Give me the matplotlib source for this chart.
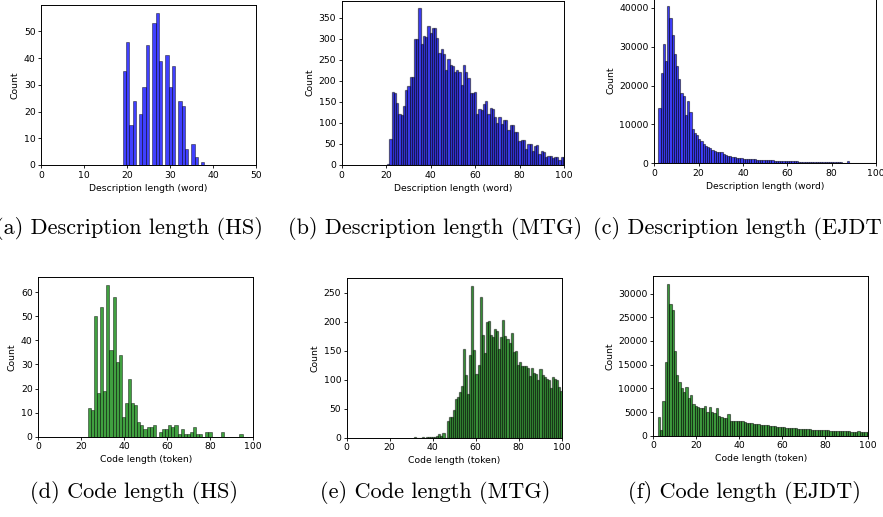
import matplotlib.pyplot as plt
import matplotlib.colors as mcolors
import numpy as np

# Length histograms: first bin edge, bin width and counts per bin
hs_desc_start, hs_desc_width = 19.0, 0.76
hs_desc_counts = [35, 46, 15, 24, 0, 19, 29, 45, 0, 53, 57, 39, 0, 41, 29, 37,
                  0, 24, 22, 6, 0, 8, 3, 0, 1]

mtg_desc_start, mtg_desc_width = 20.5, 1.0
mtg_desc_counts = [3, 62, 173, 172, 148, 120, 119, 141, 177, 188,
                   210, 210, 300, 298, 372, 288, 307, 305, 331, 314,
                   326, 325, 302, 267, 275, 263, 225, 252, 237, 236,
                   220, 225, 222, 190, 237, 220, 206, 170, 172, 173,
                   120, 133, 131, 146, 152, 120, 135, 134, 113, 99,
                   113, 98, 108, 108, 82, 95, 95, 78, 78, 58,
                   59, 60, 38, 51, 50, 33, 46, 47, 27, 33,
                   32, 20, 21, 22, 17, 18, 18, 13, 19, 19]

ejdt_desc_start, ejdt_desc_width = 1.8, 1.0
ejdt_desc_counts = [14200, 23200, 30700, 26200, 40500, 37400, 33000, 28000, 25100, 21700,
                    18100, 17200, 12400, 15900, 13100, 8700, 7800, 7300, 6200, 5700,
                    5000, 4400, 4200, 4000, 3500, 3200, 3000, 2900, 2800, 2500,
                    2100, 1900, 1800, 1600, 1500, 1400, 1300, 1300, 1200, 1150,
                    1100, 1050, 1000, 980, 950, 900, 880, 850, 820, 800,
                    900, 780, 700, 680, 650, 620, 600, 580, 560, 520,
                    500, 480, 470, 450, 420, 400, 390, 370, 350, 330,
                    320, 310, 300, 290, 280, 270, 260, 250, 240, 230,
                    220, 215, 210, 205, 200, 600, 195, 190, 185, 180,
                    175, 170, 165, 160, 155, 150, 145, 140, 135]

hs_code_start, hs_code_width = 23.0, 1.44
hs_code_counts = [12, 11, 50, 18, 54, 19, 63, 36, 58, 31,
                  34, 8, 14, 24, 14, 13, 6, 5, 3, 4,
                  4, 5, 0, 2, 3, 3, 5, 4, 5, 1,
                  3, 1, 1, 2, 4, 1, 1, 0, 2, 2,
                  0, 0, 0, 2, 0, 0, 0, 0, 0, 1]

mtg_code_start, mtg_code_width = 31.1, 0.96
mtg_code_counts = [1, 0, 0, 0, 1, 0, 1, 1, 2, 1, 1, 3, 7, 3, 8, 0,
                   29, 36, 36, 47, 66, 71, 79, 89, 153, 108,
                   75, 142, 262, 151, 110, 125, 243, 177, 146, 199,
                   201, 177, 173, 187, 185, 153, 174, 203, 176, 171,
                   163, 180, 148, 149, 125, 131, 124, 123, 123, 120,
                   107, 120, 111, 110, 99, 119, 108, 105, 102, 100,
                   86, 104, 102, 100, 88, 81]

ejdt_code_start, ejdt_code_width = 2.0, 1.08
ejdt_code_counts = [4000, 1300, 7400, 15600, 32100, 27800, 26600, 17900, 12900, 11300,
                    10000, 9300, 10300, 8000, 8600, 6600, 6200, 6000, 5800, 5900,
                    6200, 5100, 6100, 4900, 4800, 5800, 4200, 3900, 3800, 3700,
                    4600, 3200, 3100, 3100, 3000, 3000, 3100, 2900, 2700, 2600,
                    2600, 2500, 2500, 2400, 2300, 2300, 2200, 2200, 2100, 2000,
                    2000, 1900, 1900, 1800, 1800, 1700, 1700, 1650, 1600, 1550,
                    1500, 1500, 1450, 1400, 1400, 1350, 1300, 1300, 1250, 1200,
                    1200, 1150, 1100, 1100, 1050, 1050, 1000, 1000, 950, 950,
                    900, 900, 900, 850, 850, 800, 900, 800, 750, 750, 700]

desc_captions = ['(a) Description length (HS)', '(b) Description length (MTG)',
                 '(c) Description length (EJDT)']
code_captions = ['(d) Code length (HS)', '(e) Code length (MTG)', '(f) Code length (EJDT)']

W, H = 883, 517
fig = plt.figure(figsize=(W / 100, H / 100), dpi=100)

BLUE = mcolors.to_rgba('blue', 0.75)
GREEN = mcolors.to_rgba('green', 0.75)
EDGE = (0, 0, 0, 0.5)
FS = 6.7
CAP_FS = 16


def box(l, t, r, b):
    # axes rectangle given in pixels from the top-left corner
    return fig.add_axes([l / W, 1 - b / H, (r - l) / W, (b - t) / H])


def hist(ax, start, width, counts, color, xmax, xstep, xlabel, lw=0.6):
    counts = np.asarray(counts)
    left = start + width * np.arange(len(counts))
    ax.bar(left, counts, width=width, align='edge', facecolor=color,
           edgecolor=EDGE, linewidth=lw)
    ax.set_xlim(0, xmax)
    ax.set_xticks(np.arange(0, xmax + 1, xstep))
    ax.set_xlabel(xlabel, fontsize=FS, labelpad=3)
    ax.set_ylabel('Count', fontsize=FS, labelpad=3)
    ax.tick_params(labelsize=FS, length=2.5, width=0.6, pad=1.5)
    for s in ax.spines.values():
        s.set_linewidth(0.7)


ax = box(41.3, 5, 256, 165)
hist(ax, hs_desc_start, hs_desc_width, hs_desc_counts, BLUE, 50, 10, 'Description length (word)')
ax = box(341.7, 0.5, 564, 165)
hist(ax, mtg_desc_start, mtg_desc_width, mtg_desc_counts, BLUE, 100, 20,
     'Description length (word)', lw=0.9)
ax = box(654.3, -2, 876, 163.3)
hist(ax, ejdt_desc_start, ejdt_desc_width, ejdt_desc_counts, BLUE, 100, 20,
     'Description length (word)', lw=0.8)

ax = box(38.3, 277.3, 253.3, 436.7)
hist(ax, hs_code_start, hs_code_width, hs_code_counts, GREEN, 100, 20, 'Code length (token)')
ax = box(346.7, 278.3, 561.7, 437.7)
hist(ax, mtg_code_start, mtg_code_width, mtg_code_counts, GREEN, 100, 20,
     'Code length (token)', lw=0.9)
ax = box(653.3, 276, 868.3, 435.7)
hist(ax, ejdt_code_start, ejdt_code_width, ejdt_code_counts, GREEN, 100, 20,
     'Code length (token)', lw=0.8)

# sub-figure captions
fig.text(263 / W, 1 - 228 / H, desc_captions[0], ha='right', va='center',
         fontsize=CAP_FS, family='cmr10')
fig.text(435.5 / W, 1 - 228 / H, desc_captions[1], ha='center', va='center',
         fontsize=CAP_FS, family='cmr10')
fig.text(593 / W, 1 - 228 / H, desc_captions[2], ha='left', va='center',
         fontsize=CAP_FS, family='cmr10')
for x, text in zip([134.5, 435, 744], code_captions):
    fig.text(x / W, 1 - 493 / H, text, ha='center', va='center', fontsize=CAP_FS, family='cmr10')

fig.savefig('out.png', dpi=100)
